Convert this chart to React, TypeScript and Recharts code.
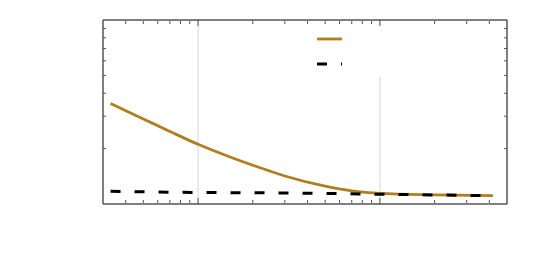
import React from 'react';
import { LineChart, Line, XAxis, YAxis, ReferenceLine, Legend } from 'recharts';

const goldX = [3.3, 5, 7, 10, 15, 20, 30, 50, 70, 100, 200, 418];
const goldY = [3.52, 2.9, 2.48, 2.11, 1.8, 1.625, 1.42, 1.25, 1.18, 1.143, 1.122, 1.11];
const dashX = [3.3, 10, 30, 100, 418];
const dashY = [1.172, 1.155, 1.148, 1.13, 1.11];
const seriesNames = ['Series 1', 'Series 2'];

const xDomain = [3, 500];
const yDomain = [1, 10];
const xMajorTicks = [10, 100];
const xMinorTicks = [4, 5, 6, 7, 8, 9, 20, 30, 40, 50, 60, 70, 80, 90, 200, 300, 400];
const yMinorTicks = [2, 3, 4, 5, 6, 7, 8, 9];

const goldData = goldX.map((x, i) => ({ x, y: goldY[i] }));
const dashData = dashX.map((x, i) => ({ x, y: dashY[i] }));

const GOLD = '#B07E1F';
const AXIS = '#555';

const NoLabel = () => <g />;

const LegendBox = () => (
  <div style={{ width: 110, height: 51, background: '#fff' }}>
    <svg width={110} height={51}>
      <line x1={7} x2={32} y1={13} y2={13} stroke={GOLD} strokeWidth={2.8} />
      <text x={40} y={17} fill="#fff" fontSize={12}>{seriesNames[0]}</text>
      <line x1={7} x2={32} y1={38} y2={38} stroke="#000" strokeWidth={3} strokeDasharray="10 14" />
      <text x={40} y={42} fill="#fff" fontSize={12}>{seriesNames[1]}</text>
    </svg>
  </div>
);

export default function App() {
  const common = { type: 'number' as const, scale: 'log' as const, domain: xDomain, allowDataOverflow: true, dataKey: 'x', mirror: true, height: 1, tick: NoLabel, interval: 0 };
  const ycommon = { type: 'number' as const, scale: 'log' as const, domain: yDomain, allowDataOverflow: true, mirror: true, width: 1, tick: NoLabel, interval: 0 };
  return (
    <LineChart width={530} height={265} margin={{ top: 12, right: 31, bottom: 69, left: 95 }}>
      <XAxis xAxisId="b" orientation="bottom" {...common} ticks={xMajorTicks} tickSize={6}
        axisLine={{ stroke: AXIS, strokeWidth: 1.5 }} tickLine={{ stroke: AXIS }} />
      <XAxis xAxisId="bm" orientation="bottom" {...common} ticks={xMinorTicks} tickSize={3}
        axisLine={false} tickLine={{ stroke: AXIS }} />
      <XAxis xAxisId="t" orientation="top" {...common} ticks={xMajorTicks} tickSize={6}
        axisLine={{ stroke: AXIS, strokeWidth: 1.5 }} tickLine={{ stroke: AXIS }} />
      <XAxis xAxisId="tm" orientation="top" {...common} ticks={xMinorTicks} tickSize={3}
        axisLine={false} tickLine={{ stroke: AXIS }} />
      <YAxis yAxisId="l" orientation="left" {...ycommon} ticks={yMinorTicks} tickSize={3}
        axisLine={{ stroke: AXIS, strokeWidth: 1.5 }} tickLine={{ stroke: AXIS }} />
      <YAxis yAxisId="r" orientation="right" {...ycommon} ticks={yMinorTicks} tickSize={3}
        axisLine={{ stroke: AXIS, strokeWidth: 1.5 }} tickLine={{ stroke: AXIS }} />
      {xMajorTicks.map((v) => (
        <ReferenceLine key={v} x={v} xAxisId="b" yAxisId="l" stroke="#d4d4d4" strokeWidth={1} />
      ))}
      <Line data={goldData} xAxisId="b" yAxisId="l" dataKey="y" name={seriesNames[0]} type="monotone"
        stroke={GOLD} strokeWidth={2.8} dot={false} isAnimationActive={false} />
      <Line data={dashData} xAxisId="b" yAxisId="l" dataKey="y" name={seriesNames[1]} type="monotone"
        stroke="#000" strokeWidth={3} strokeDasharray="10 14" dot={false} isAnimationActive={false} />
      <Legend layout="vertical" align="center" verticalAlign="middle" content={() => <LegendBox />}
        wrapperStyle={{ position: 'absolute', left: 302, top: 18, width: 110, height: 51 }} />
    </LineChart>
  );
}
